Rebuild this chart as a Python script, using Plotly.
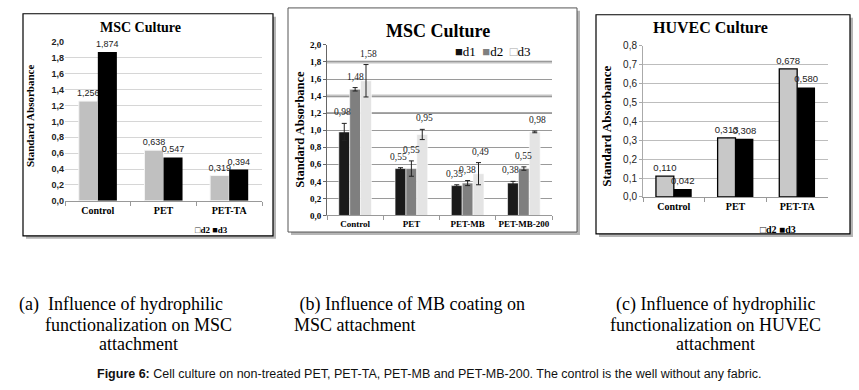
import plotly.graph_objects as go

# ---------------- data ----------------
cats_a = ["Control", "PET", "PET-TA"]
a_d2 = [1.256, 0.638, 0.319]
a_d3 = [1.874, 0.547, 0.394]

cats_b = ["Control", "PET", "PET-MB", "PET-MB-200"]
b_d1 = [0.98, 0.55, 0.35, 0.38]
b_d2 = [1.48, 0.55, 0.38, 0.55]
b_d3 = [1.58, 0.95, 0.49, 0.98]
b_e1 = [0.10, 0.01, 0.01, 0.02]
b_e2 = [0.02, 0.09, 0.03, 0.02]
b_e3 = [0.19, 0.06, 0.13, 0.01]

cats_c = ["Control", "PET", "PET-TA"]
c_d2 = [0.110, 0.313, 0.678]
c_d3 = [0.042, 0.308, 0.580]

ticks_a = [0, 0.2, 0.4, 0.6, 0.8, 1.0, 1.2, 1.4, 1.6, 1.8, 2.0]
ticks_b = ticks_a
ticks_c = [0, 0.1, 0.2, 0.3, 0.4, 0.5, 0.6, 0.7, 0.8]

W, H = 859, 390
def px(x): return x / W
def py(y): return 1 - y / H

def fmt(v, n):
    return f"{v:.{n}f}".replace(".", ",")

SERIF = "Liberation Serif, Times New Roman, serif"
SANS = "Liberation Sans, Arial, sans-serif"

fig = go.Figure()

# ---------- panel (a) ----------
fig.add_trace(go.Bar(x=cats_a, y=a_d2, name="d2", xaxis="x", yaxis="y",
                     marker=dict(color="#c0c0c0", line=dict(color="#f4f4f4", width=1)),
                     text=[fmt(v, 3) for v in a_d2], textposition="outside", constraintext="none",
                     textfont=dict(family=SANS, size=9, color="#222"), cliponaxis=False,
                     showlegend=False))
fig.add_trace(go.Bar(x=cats_a, y=a_d3, name="d3", xaxis="x", yaxis="y",
                     marker=dict(color="#000000", line=dict(color="#000", width=0)),
                     text=[fmt(v, 3) for v in a_d3], textposition="outside", constraintext="none",
                     textfont=dict(family=SANS, size=9, color="#222"), cliponaxis=False,
                     showlegend=False))

# ---------- panel (b) ----------
b_series = [("d1", b_d1, b_e1, "#1a1a1a"), ("d2", b_d2, b_e2, "#7f7f7f"), ("d3", b_d3, b_e3, "#e4e4e4")]
for name, vals, errs, col in b_series:
    fig.add_trace(go.Bar(x=cats_b, y=vals, name=name, xaxis="x2", yaxis="y2",
                         marker=dict(color=col, line=dict(color="#ffffff", width=0.6)),
                         error_y=dict(type="data", array=errs, visible=True, color="#222",
                                      thickness=1, width=2.5),
                         showlegend=False))

# ---------- panel (c) ----------
fig.add_trace(go.Bar(x=cats_c, y=c_d2, name="d2", xaxis="x3", yaxis="y3",
                     marker=dict(color="#c8c8c8", line=dict(color="#000", width=1.3)),
                     text=[fmt(v, 3) for v in c_d2], textposition="outside", constraintext="none",
                     textfont=dict(family=SANS, size=9.5, color="#222"), cliponaxis=False,
                     showlegend=False))
fig.add_trace(go.Bar(x=cats_c, y=c_d3, name="d3", xaxis="x3", yaxis="y3",
                     marker=dict(color="#000000", line=dict(color="#000", width=0)),
                     text=[fmt(v, 3) for v in c_d3], textposition="outside", constraintext="none",
                     textfont=dict(family=SANS, size=9.5, color="#222"), cliponaxis=False,
                     showlegend=False))

annotations = []
# data labels for (b), above error bars
bar_px_b = 225 / 4 * 0.7 / 3
for i, (name, vals, errs, col) in enumerate(b_series):
    for c, v, e in zip(cats_b, vals, errs):
        annotations.append(dict(x=c, y=v + e, xref="x2", yref="y2", text=fmt(v, 2),
                                showarrow=False, yanchor="bottom", yshift=4,
                                xshift=(i - 1) * bar_px_b,
                                font=dict(family=SERIF, size=9.5, color="#222")))

def pa(x, y, text, size, family=SERIF, bold=False, xanchor="center", angle=0, color="#000"):
    annotations.append(dict(x=px(x), y=py(y), xref="paper", yref="paper", text=text,
                            showarrow=False, xanchor=xanchor, yanchor="middle",
                            textangle=angle,
                            font=dict(family=family, size=size, color=color,
                                      weight="bold" if bold else "normal")))

# titles
pa(140, 23, "MSC Culture", 14, bold=True)
pa(438, 27, "MSC Culture", 18, bold=True)
pa(710, 23, "HUVEC Culture", 16, bold=True)
# y-axis titles
pa(30, 114, "Standard Absorbance", 11, bold=True, angle=-90)
pa(300, 128, "Standard Absorbance", 12.5, bold=True, angle=-90)
pa(607, 125, "Standard Absorbance", 13, bold=True, angle=-90)

# compact legends
pa(193, 231, "<span style='color:#333'>□</span>d2 <span style='color:#000'>■</span>d3", 9,
   bold=True, xanchor="left")
pa(453, 48, "<span style='color:#111'>■</span>d1  <span style='color:#7f7f7f'>■</span>d2  "
            "<span style='color:#aaa'>□</span>d3", 13, xanchor="left")
pa(758, 230, "<span style='color:#222'>□</span>d2 <span style='color:#000'>■</span>d3", 10,
   bold=True, xanchor="left")

# captions
pa(17, 307, "(a)  Influence of hydrophilic", 18, xanchor="left")
pa(138, 328, "functionalization on MSC", 18)
pa(138, 348, "attachment", 18)
pa(293, 307, " (b) Influence of MB coating on", 18, xanchor="left")
pa(292, 328, "MSC attachment", 18, xanchor="left")
pa(715, 307, "(c) Influence of hydrophilic", 18)
pa(715, 328, "functionalization on HUVEC", 18)
pa(715, 348, "attachment", 18)
pa(429, 379, "<b>Figure 6:</b> Cell culture on non-treated PET, PET-TA, PET-MB and PET-MB-200. "
             "The control is the well without any fabric.", 12.5, family=SANS, color="#111")

# panel frames with shadow
shapes = []
def frame(x0, y0, x1, y1, lw=1.2, lc="#000"):
    shapes.append(dict(type="rect", xref="paper", yref="paper", layer="below",
                       x0=px(x0 + 3), x1=px(x1 + 3), y0=py(y1 + 3), y1=py(y0 + 3),
                       fillcolor="#b5b5b5", line=dict(width=0)))
    shapes.append(dict(type="rect", xref="paper", yref="paper", layer="below",
                       x0=px(x0), x1=px(x1), y0=py(y1), y1=py(y0),
                       fillcolor="#ffffff", line=dict(color=lc, width=lw)))
frame(23, 9, 273, 237)
frame(288, 3, 577, 233, lw=1, lc="#555")
frame(596, 10, 850, 235)

# odd emphasized gridlines in panel (b)
for yv, col, wd in [(1.8, "#c4c4c4", 3), (1.4, "#c4c4c4", 3), (1.2, "#000", 1)]:
    shapes.append(dict(type="line", xref="x2 domain", yref="y2", x0=0, x1=1, y0=yv, y1=yv,
                       layer="below", line=dict(color=col, width=wd)))

def xax(dom, anchor, size):
    return dict(domain=[px(dom[0]), px(dom[1])], anchor=anchor, type="category",
                showline=True, linecolor="#999", linewidth=1, ticks="outside",
                tickson="boundaries", ticklen=4, tickcolor="#999", tickangle=0,
                tickfont=dict(family=SERIF, size=size, color="#000", weight="bold"),
                showgrid=False, fixedrange=True)

fig.update_layout(
    width=W, height=H, margin=dict(l=0, r=0, t=0, b=0),
    paper_bgcolor="#ffffff", plot_bgcolor="rgba(0,0,0,0)",
    separators=",.", barmode="group", showlegend=False,
    xaxis=xax((65, 262), "y", 10),
    yaxis=dict(domain=[py(201), py(38)], anchor="x", range=[0, 2.0], tickvals=ticks_a,
               tickformat=".1f", gridcolor="#d6d6d6", zeroline=False, showline=False,
               tickfont=dict(family=SANS, size=9, color="#222", weight="bold"), ticks=""),
    xaxis2=xax((327, 552), "y2", 9),
    yaxis2=dict(domain=[py(216), py(41)], anchor="x2", range=[0, 2.0], tickvals=ticks_b,
                tickformat=".1f", gridcolor="#9a9a9a", zeroline=False, showline=True,
                linecolor="#666", ticks="outside", ticklen=3, tickcolor="#666",
                tickfont=dict(family=SERIF, size=9, color="#000", weight="bold")),
    xaxis3=xax((643, 828), "y3", 10),
    yaxis3=dict(domain=[py(197), py(42)], anchor="x3", range=[0, 0.8], tickvals=ticks_c,
                tickformat=".1f", gridcolor="#bdbdbd", zeroline=False, showline=True,
                linecolor="#aaa", ticks="outside", ticklen=3, tickcolor="#aaa",
                tickfont=dict(family=SANS, size=10, color="#222")),
    bargap=0.42, bargroupgap=0,
    annotations=annotations, shapes=shapes,
)

fig.write_html("out.html", config={"displayModeBar": False},
               post_script="document.body.style.margin='0px';document.body.style.overflow='hidden';")
